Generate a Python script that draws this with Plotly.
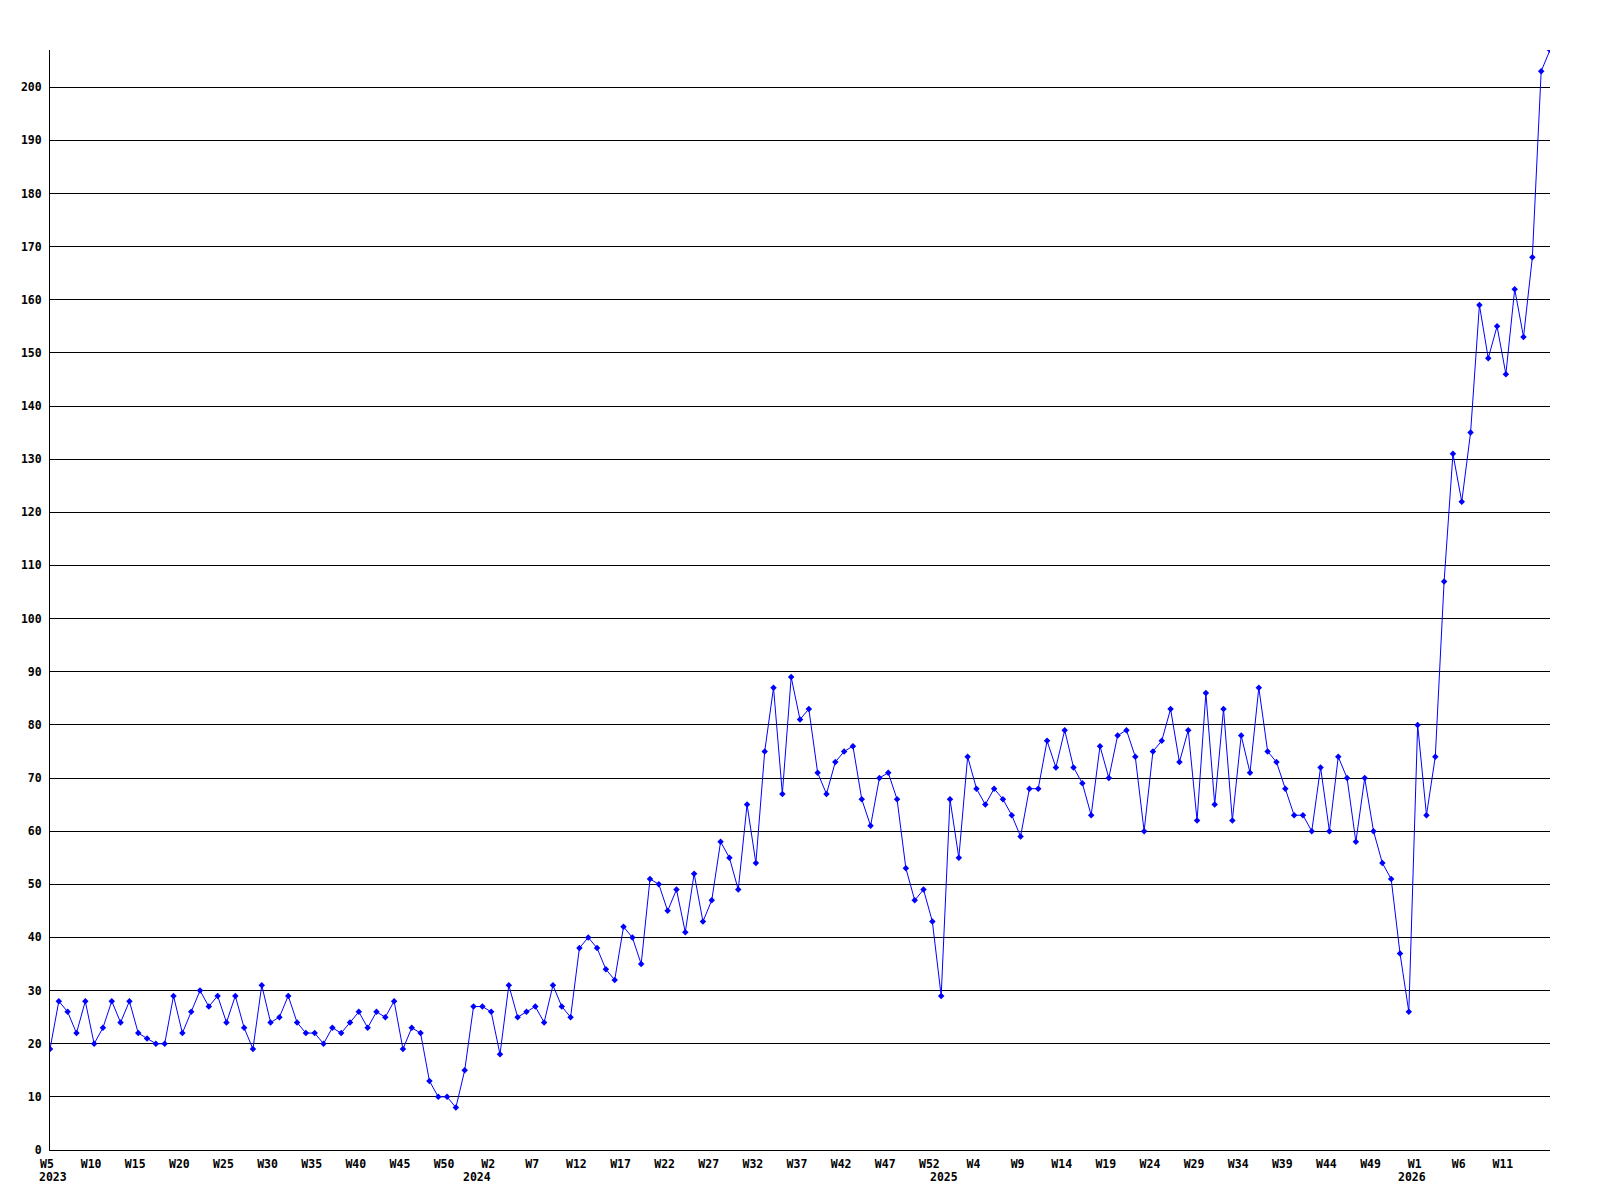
import plotly.graph_objects as go

# Week numbers (Sunday-based, week 0 = partial first week of year)
weeks_2023 = list(range(5, 53))
weeks_2024 = list(range(0, 53))
weeks_2025 = list(range(0, 53))
weeks_2026 = list(range(0, 17))

values_2023 = [19, 28, 26, 22, 28, 20, 23, 28, 24, 28, 22, 21, 20, 20, 29, 22, 26, 30, 27, 29,
               24, 29, 23, 19, 31, 24, 25, 29, 24, 22, 22, 20, 23, 22, 24, 26, 23, 26, 25, 28,
               19, 23, 22, 13, 10, 10, 8, 15]
values_2024 = [27, 27, 26, 18, 31, 25, 26, 27, 24, 31, 27, 25, 38, 40, 38, 34, 32, 42, 40, 35,
               51, 50, 45, 49, 41, 52, 43, 47, 58, 55, 49, 65, 54, 75, 87, 67, 89, 81, 83, 71,
               67, 73, 75, 76, 66, 61, 70, 71, 66, 53, 47, 49, 43]
values_2025 = [29, 66, 55, 74, 68, 65, 68, 66, 63, 59, 68, 68, 77, 72, 79, 72, 69, 63, 76, 70,
               78, 79, 74, 60, 75, 77, 83, 73, 79, 62, 86, 65, 83, 62, 78, 71, 87, 75, 73, 68,
               63, 63, 60, 72, 60, 74, 70, 58, 70, 60, 54, 51, 37]
values_2026 = [26, 80, 63, 74, 107, 131, 122, 135, 159, 149, 155, 146, 162, 153, 168, 203, 207]

years = [2023, 2024, 2025, 2026]
weeks_by_year = [weeks_2023, weeks_2024, weeks_2025, weeks_2026]
values_by_year = [values_2023, values_2024, values_2025, values_2026]

weeks = []
values = []
year_of_point = []
for yr, wk, vals in zip(years, weeks_by_year, values_by_year):
    weeks += wk
    values += vals
    year_of_point += [yr] * len(wk)

x = list(range(len(values)))
last = x[-1]
tick_step = 5
tickvals = [i for i in x[::tick_step] if i < last]
ticktext = ["W%d" % weeks[i] for i in tickvals]

# first point of each year (for year labels)
year_start_idx = [year_of_point.index(yr) for yr in years]

FONT = dict(family="DejaVu Sans Mono", size=11.5, color="black", weight="bold")

fig = go.Figure()
fig.add_trace(go.Scatter(
    x=x, y=values, mode="lines+markers",
    line=dict(color="#0000ff", width=1),
    marker=dict(symbol="diamond", size=5, color="#0000ff"),
    hoverinfo="y",
))

for yr, idx in zip(years, year_start_idx):
    fig.add_annotation(x=idx, y=0, xref="x", yref="paper", text=str(yr),
                       showarrow=False, yanchor="middle", yshift=-27, xshift=3,
                       font=FONT)

fig.update_layout(
    width=1600, height=1200,
    margin=dict(l=42, r=58, t=42, b=58),
    paper_bgcolor="white", plot_bgcolor="white",
    showlegend=False,
    font=FONT,
)
fig.update_xaxes(
    range=[0, last],
    tickvals=tickvals, ticktext=ticktext,
    showgrid=False, zeroline=False,
    showline=True, linecolor="black", linewidth=1,
    ticks="", tickfont=FONT, tickangle=0,
    ticklabelstandoff=3, ticklabelshift=-3,
)
fig.update_yaxes(
    range=[0, max(values)],
    tick0=0, dtick=10,
    showgrid=True, gridcolor="black", gridwidth=1,
    zeroline=False,
    showline=True, linecolor="black", linewidth=1,
    ticks="", tickfont=FONT,
    ticklabelstandoff=5,
)

fig.write_html("out.html")
